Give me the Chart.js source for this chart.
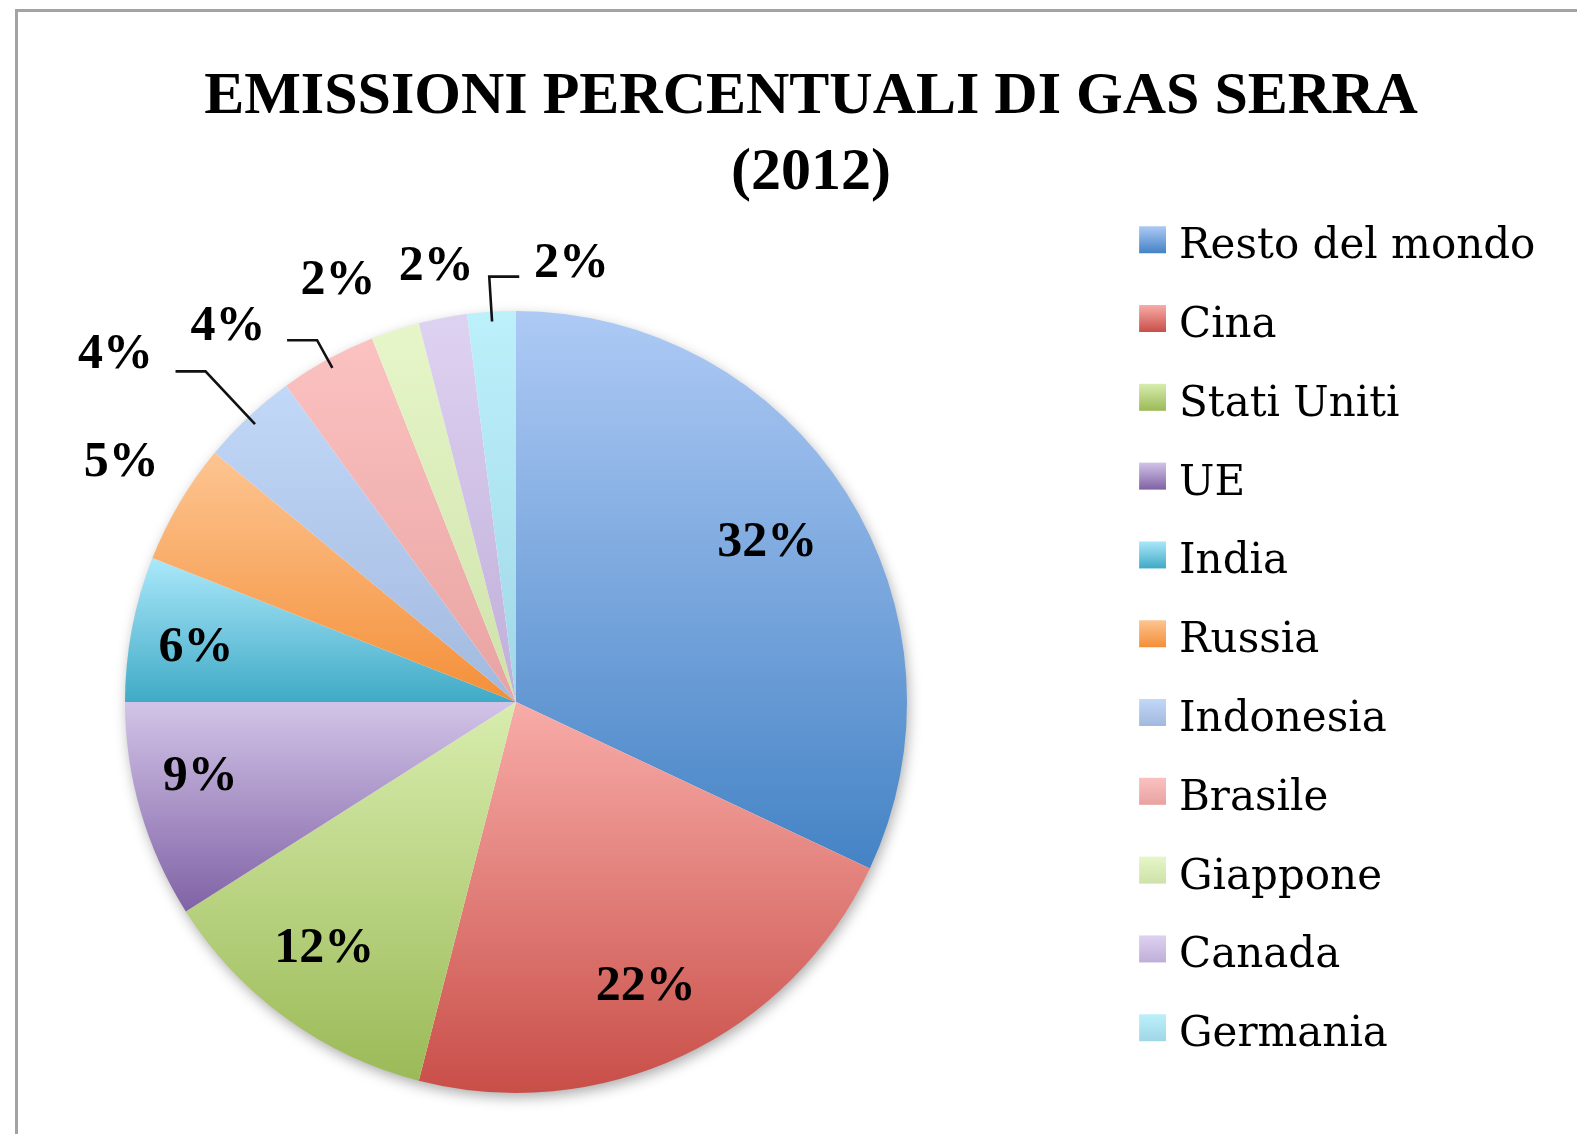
<!DOCTYPE html>
<html lang="it">

<head>
    <meta charset="UTF-8">
    <title>Emissioni percentuali di gas serra (2012)</title>
    <style>
        html, body { margin: 0; padding: 0; background: #fff; overflow: hidden; }
        #frame { position: absolute; left: 15px; top: 9px; width: 1700px; height: 1300px; border: 3px solid #a3a3a3; box-sizing: border-box; }
        #wrap { position: absolute; left: 0; top: 0; }
    </style>
</head>

<body>
    <div id="frame"></div>
    <div id="wrap">
        <canvas id="myChart" width="1577" height="1134"></canvas>
    </div>

    <script src="https://cdn.jsdelivr.net/npm/chart.js"></script>
    <script>
        // data
        const v_labels = ['Resto del mondo', 'Cina', 'Stati Uniti', 'UE', 'India', 'Russia',
            'Indonesia', 'Brasile', 'Giappone', 'Canada', 'Germania'];
        const v_values = [32, 22, 12, 9, 6, 5, 4, 4, 2, 2, 2];
        const v_title = ['EMISSIONI PERCENTUALI DI GAS SERRA', '(2012)'];

        // gradient of every slice: light at the top, dark at the bottom
        const v_colTop = ['#aecaf5', '#f8aca8', '#d8edae', '#d2c4e8', '#abe8fa', '#fdc592',
            '#c2d8f8', '#fbc2c1', '#e6f6c9', '#ded2f1', '#bcf0fb'];
        const v_colBottom = ['#4483c5', '#c94e48', '#9bba57', '#8062a5', '#40aac6', '#f48f38',
            '#a2b9df', '#e8a3a1', '#cfe2aa', '#c0aed9', '#a1d7e6'];

        // where each percentage is written: radius (part of the pie radius), angle shift in deg, leader elbow
        const v_labelPos = [
            { r: 0.76, a: 0.1 }, { r: 0.80, a: 0.7 }, { r: 0.80, a: 1.8 }, { r: 0.83, a: 2.8 }, { r: 0.83, a: -1.2 },
            { r: 1.18, a: 0.6 },
            { r: 1.355, a: -5.9, elbow: 1.16 },
            { r: 1.21, a: -8.7, elbow: 1.056 },
            { r: 1.17, a: -4.9 },
            { r: 1.13, a: 0.4 },
            { r: 1.13, a: 10.8, elbow: 1.09 }
        ];

        // layout: legend text starts at 1179, pie centre at x 516, title centre at x 811
        const v_legendFont = 42;
        const v_legendPad = 36.8;
        const v_legendFamily = "'DejaVu Serif', serif";
        const v_measure = document.createElement('canvas').getContext('2d');
        v_measure.font = v_legendFont + 'px ' + v_legendFamily;
        let v_textW = 0;
        for (let i = 0; i < v_labels.length; i++) {
            v_textW = Math.max(v_textW, v_measure.measureText(v_labels[i]).width);
        }
        const v_legendW = 2 * (811 - 516);
        const v_boxW = v_legendW - v_legendPad - v_legendFont / 2 - v_textW - 10;
        const v_legendLeft = 1179 - v_legendFont / 2 - v_boxW - v_legendPad;
        const v_padLeft = 2 * 516 - v_legendLeft;
        const v_padRight = 1577 - v_legendLeft - v_legendW;

        // legend squares (with the same gradient as the slices)
        function f_legendBox(i) {
            const c = document.createElement('canvas');
            c.width = Math.round(v_boxW + 16);
            c.height = 44;
            const x = c.getContext('2d');
            const g = x.createLinearGradient(0, 1, 0, 28);
            g.addColorStop(0, v_colTop[i]);
            g.addColorStop(1, v_colBottom[i]);
            x.fillStyle = g;
            x.fillRect(c.width - 27, 1, 27, 27);
            return c;
        }
        const v_boxes = v_labels.map((l, i) => f_legendBox(i));

        function f_sliceGradient(context) {
            const chart = context.chart;
            const area = chart.chartArea;
            const i = context.dataIndex;
            if (!area || i === undefined) return v_colBottom[i || 0];
            const cx = (area.left + area.right) / 2;
            const cy = (area.top + area.bottom) / 2;
            const r = Math.min(area.right - area.left, area.bottom - area.top) / 2;
            const data = chart.data.datasets[0].data;
            const total = data.reduce((a, b) => a + b, 0);
            let start = -Math.PI / 2;
            for (let k = 0; k < i; k++) start += data[k] / total * 2 * Math.PI;
            const end = start + data[i] / total * 2 * Math.PI;
            const ys = [cy, cy + r * Math.sin(start), cy + r * Math.sin(end)];
            [-Math.PI / 2, Math.PI / 2, 3 * Math.PI / 2].forEach(a => {
                if (a > start && a < end) ys.push(cy + r * Math.sin(a));
            });
            const g = chart.ctx.createLinearGradient(0, Math.min(...ys), 0, Math.max(...ys));
            g.addColorStop(0, v_colTop[i]);
            g.addColorStop(1, v_colBottom[i]);
            return g;
        }

        const v_shadow = {
            id: 'pieShadow',
            beforeDatasetsDraw(chart) {
                const arc = chart.getDatasetMeta(0).data[0];
                const ctx = chart.ctx;
                ctx.save();
                ctx.shadowColor = 'rgba(0,0,0,0.35)';
                ctx.shadowBlur = 14;
                ctx.shadowOffsetX = 2;
                ctx.shadowOffsetY = 5;
                ctx.beginPath();
                ctx.arc(arc.x, arc.y, arc.outerRadius - 1, 0, 2 * Math.PI);
                ctx.fillStyle = '#fff';
                ctx.fill();
                ctx.restore();
            }
        };

        const v_pctLabels = {
            id: 'pctLabels',
            afterDatasetsDraw(chart) {
                const ctx = chart.ctx;
                const data = chart.data.datasets[0].data;
                const total = data.reduce((a, b) => a + b, 0);
                ctx.save();
                ctx.font = "bold 50px 'Liberation Serif', serif";
                ctx.textAlign = 'center';
                ctx.textBaseline = 'middle';
                ctx.fillStyle = '#000';
                ctx.strokeStyle = '#111';
                ctx.lineWidth = 2.6;
                chart.getDatasetMeta(0).data.forEach((arc, i) => {
                    const p = v_labelPos[i];
                    const R = arc.outerRadius;
                    const mid = (arc.startAngle + arc.endAngle) / 2;
                    const ang = mid + (p.a || 0) * Math.PI / 180;
                    const lx = arc.x + Math.cos(ang) * R * p.r;
                    const ly = arc.y + Math.sin(ang) * R * p.r;
                    if (p.elbow) {
                        const ex = arc.x + Math.cos(mid) * R * p.elbow;
                        const ey = arc.y + Math.sin(mid) * R * p.elbow;
                        const dir = lx > ex ? 1 : -1;
                        ctx.beginPath();
                        ctx.moveTo(arc.x + Math.cos(mid) * R * 0.975, arc.y + Math.sin(mid) * R * 0.975);
                        ctx.lineTo(ex, ey);
                        ctx.lineTo(ex + dir * 30, ey);
                        ctx.stroke();
                    }
                    ctx.fillText(Math.round(data[i] / total * 100) + '%', lx, ly);
                });
                ctx.restore();
            }
        };

        const ctx = document.querySelector('#myChart');
        new Chart(ctx, {
            type: 'pie',
            data: {
                labels: v_labels,
                datasets: [{
                    data: v_values,
                    backgroundColor: f_sliceGradient,
                    borderWidth: 0
                }]
            },
            options: {
                responsive: false,
                animation: false,
                events: [],
                layout: { padding: { left: v_padLeft, right: v_padRight, top: 0, bottom: 41 } },
                plugins: {
                    title: {
                        display: true,
                        text: v_title,
                        color: '#000',
                        font: { family: "'Liberation Serif', serif", size: 60, weight: 'bold', lineHeight: 76 / 60 },
                        padding: { top: 59, bottom: 100 }
                    },
                    legend: {
                        position: 'right',
                        align: 'end',
                        labels: {
                            color: '#1c1c1c',
                            font: { family: v_legendFamily, size: v_legendFont },
                            padding: v_legendPad,
                            usePointStyle: true,
                            pointStyleWidth: v_boxW,
                            generateLabels: (chart) => chart.data.labels.map((l, i) => ({
                                text: l,
                                fillStyle: v_colBottom[i],
                                strokeStyle: v_colBottom[i],
                                lineWidth: 0,
                                pointStyle: v_boxes[i],
                                hidden: false,
                                index: i
                            }))
                        }
                    },
                    tooltip: { enabled: false }
                }
            },
            plugins: [v_shadow, v_pctLabels]
        });
    </script>

</body>

</html>
